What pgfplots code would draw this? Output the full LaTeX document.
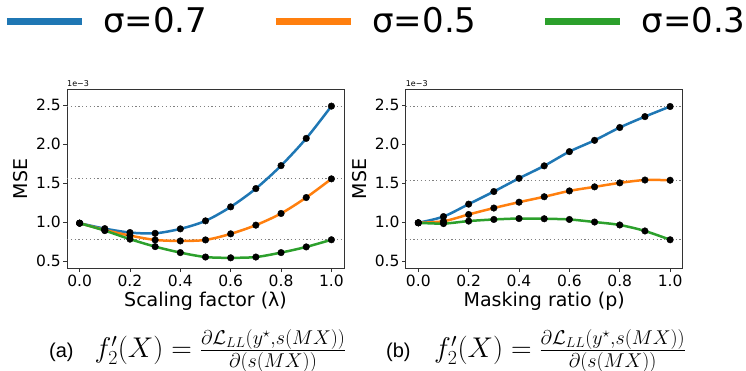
\RequirePackage{fix-cm}
\documentclass[border=0pt]{standalone}
\usepackage{fontspec}
\setmainfont{DejaVu Sans}
\newfontfamily\capfont{Liberation Sans}
\usepackage{pgfplots}
\usepackage{pgfplotstable}
\pgfplotsset{compat=1.18}
\definecolor{c1}{HTML}{1F77B4}
\definecolor{c2}{HTML}{FF7F0E}
\definecolor{c3}{HTML}{2CA02C}
\newcommand\fs[1]{\fontsize{#1}{#1}\selectfont}

\pgfplotstableread{
x    b     o     g
0.0  0.985 0.985 0.985
0.1  0.915 0.898 0.890
0.2  0.865 0.826 0.780
0.3  0.855 0.770 0.684
0.4  0.912 0.757 0.607
0.5  1.015 0.770 0.550
0.6  1.195 0.848 0.540
0.7  1.430 0.960 0.550
0.8  1.725 1.110 0.607
0.9  2.075 1.315 0.680
1.0  2.490 1.555 0.772
}\leftdata

\pgfplotstableread{
x    b     o     g
0.0  0.990 0.990 0.990
0.1  1.070 1.010 0.980
0.2  1.230 1.097 1.012
0.3  1.392 1.180 1.033
0.4  1.562 1.255 1.045
0.5  1.722 1.325 1.042
0.6  1.905 1.400 1.033
0.7  2.050 1.452 1.000
0.8  2.215 1.503 0.962
0.9  2.355 1.540 0.885
1.0  2.485 1.537 0.772
}\rightdata

\pgfplotsset{
  panel/.style={
    scale only axis, width=277pt, height=179.7pt,
    xmin=-0.05, xmax=1.05, ymin=0.40, ymax=2.71,
    xtick={0,0.2,0.4,0.6,0.8,1.0},
    xticklabels={0.0,0.2,0.4,0.6,0.8,1.0},
    ytick={0.5,1.0,1.5,2.0,2.5},
    yticklabels={0.5,1.0,1.5,2.0,2.5},
    tick align=outside, major tick length=3.5pt,
    xtick pos=bottom, ytick pos=left,
    axis line style={black!80, line width=0.8pt},
    every tick/.style={black!80, line width=0.8pt},
    tick label style={font=\fs{15.5}},
    label style={font=\fs{19}},
    xticklabel style={inner sep=0pt, yshift=-2.8pt},
    yticklabel style={inner sep=0pt, xshift=-2.5pt},
    xlabel style={at={(axis description cs:0.5,-0.213)}, anchor=base},
    ylabel style={at={(axis description cs:-0.166,0.5)}, anchor=center},
    ylabel={MSE},
  },
  curve/.style={line width=2.5pt, smooth, forget plot},
  dots/.style={only marks, mark=*, mark size=3.3pt, black, forget plot},
  hline/.style={gray, line width=1.2pt, dash pattern=on 1.2pt off 2.6pt, forget plot},
}

\begin{document}
\begin{tikzpicture}
\path[use as bounding box] (0pt,0pt) rectangle (746pt,370pt);

% ---- left panel
\begin{axis}[panel, at={(67pt,101.3pt)}, anchor=south west,
  xlabel={Scaling factor (λ)},
  legend columns=3,
  legend style={draw=none, fill=none, at={(axis description cs:-0.23,1.378)},
    anchor=west, inner sep=0pt, outer sep=0pt, font=\fs{34},
    nodes={inner sep=0pt},
    /tikz/every odd column/.style={column sep=18pt},
    /tikz/every even column/.style={column sep=65pt}},
  legend cell align=left,
  legend image code/.code={\draw[#1, line width=7pt] (0pt,0pt) -- (75pt,0pt);},
]
\addlegendimage{c1, line width=7pt}
\addlegendentry{σ=0.7}
\addlegendimage{c2, line width=7pt}
\addlegendentry{σ=0.5}
\addlegendimage{c3, line width=7pt}
\addlegendentry{σ=0.3}
\addplot[hline] coordinates {(-0.05,2.49) (1.05,2.49)};
\addplot[hline] coordinates {(-0.05,1.555) (1.05,1.555)};
\addplot[hline] coordinates {(-0.05,0.772) (1.05,0.772)};
\addplot[curve, c1] table[x=x, y=b] {\leftdata};
\addplot[curve, c2] table[x=x, y=o] {\leftdata};
\addplot[curve, c3] table[x=x, y=g] {\leftdata};
\addplot[dots] table[x=x, y=b] {\leftdata};
\addplot[dots] table[x=x, y=o] {\leftdata};
\addplot[dots] table[x=x, y=g] {\leftdata};
\end{axis}

% ---- right panel
\begin{axis}[panel, at={(405.7pt,101.3pt)}, anchor=south west,
  xlabel={Masking ratio (p)}]
\addplot[hline] coordinates {(-0.05,2.485) (1.05,2.485)};
\addplot[hline] coordinates {(-0.05,1.537) (1.05,1.537)};
\addplot[hline] coordinates {(-0.05,0.772) (1.05,0.772)};
\addplot[curve, c1] table[x=x, y=b] {\rightdata};
\addplot[curve, c2] table[x=x, y=o] {\rightdata};
\addplot[curve, c3] table[x=x, y=g] {\rightdata};
\addplot[dots] table[x=x, y=b] {\rightdata};
\addplot[dots] table[x=x, y=o] {\rightdata};
\addplot[dots] table[x=x, y=g] {\rightdata};
\end{axis}

% ---- offset labels
\node[anchor=base west, inner sep=0pt, font=\fs{8}] at (67pt,283pt) {1e−3};
\node[anchor=base west, inner sep=0pt, font=\fs{8}] at (405.7pt,283pt) {1e−3};

% ---- captions
\node[anchor=base west, inner sep=0pt, font=\capfont\fs{20}] at (49pt,13pt) {(a)};
\node[anchor=base west, inner sep=0pt, font=\fs{28.5}] at (94.3pt,12.5pt)
  {$f'_2(X) = \frac{\partial\mathcal{L}_{LL}(y^{\star},s(MX))}{\partial(s(MX))}$};
\node[anchor=base west, inner sep=0pt, font=\capfont\fs{20}] at (386pt,13pt) {(b)};
\node[anchor=base west, inner sep=0pt, font=\fs{28.5}] at (434pt,12.5pt)
  {$f'_2(X) = \frac{\partial\mathcal{L}_{LL}(y^{\star},s(MX))}{\partial(s(MX))}$};
\end{tikzpicture}
\end{document}
